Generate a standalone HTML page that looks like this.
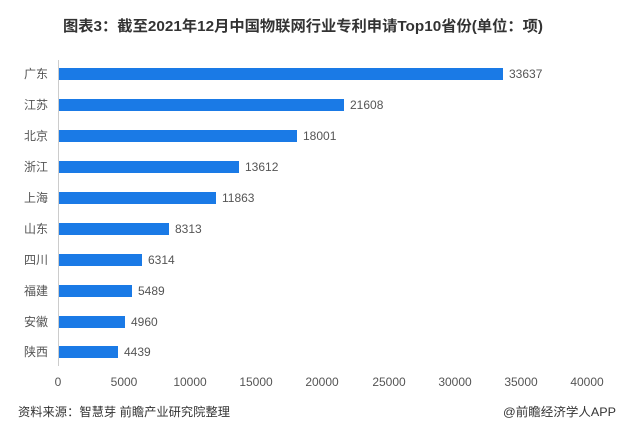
<!DOCTYPE html>
<html><head><meta charset="utf-8"><style>
body{margin:0;background:#fff;}
svg text{font-family:"Liberation Sans","Noto Sans CJK SC",sans-serif;}
</style></head><body>
<svg width="621" height="422" xmlns="http://www.w3.org/2000/svg">
<rect width="621" height="422" fill="#fff"/>
<text x="303" y="31" text-anchor="middle" font-size="15" font-weight="bold" fill="#333" textLength="480" lengthAdjust="spacingAndGlyphs">图表3：截至2021年12月中国物联网行业专利申请Top10省份(单位：项)</text>
<line x1="58.5" y1="60" x2="58.5" y2="366" stroke="#ccc" stroke-width="1"/>
<g fill="#1a7ae6">
<rect x="59" y="68" width="444" height="12"/>
<rect x="59" y="99" width="285" height="12"/>
<rect x="59" y="130" width="238" height="12"/>
<rect x="59" y="161" width="180" height="12"/>
<rect x="59" y="192" width="157" height="12"/>
<rect x="59" y="223" width="110" height="12"/>
<rect x="59" y="254" width="83" height="12"/>
<rect x="59" y="285" width="73" height="12"/>
<rect x="59" y="316" width="66" height="12"/>
<rect x="59" y="346" width="59" height="12"/>
</g>
<g font-size="12" fill="#555" text-anchor="end">
<text x="48" y="78">广东</text><text x="48" y="109">江苏</text><text x="48" y="140">北京</text>
<text x="48" y="171">浙江</text><text x="48" y="202">上海</text><text x="48" y="233">山东</text>
<text x="48" y="264">四川</text><text x="48" y="295">福建</text><text x="48" y="326">安徽</text>
<text x="48" y="356">陕西</text>
</g>
<g font-size="12" fill="#555">
<text x="509" y="78">33637</text><text x="350" y="109">21608</text><text x="303" y="140">18001</text>
<text x="245" y="171">13612</text><text x="222" y="202">11863</text><text x="175" y="233">8313</text>
<text x="148" y="264">6314</text><text x="138" y="295">5489</text><text x="131" y="326">4960</text>
<text x="124" y="356">4439</text>
</g>
<g font-size="12" fill="#555" text-anchor="middle">
<text x="58" y="386">0</text><text x="124" y="386">5000</text><text x="190" y="386">10000</text>
<text x="256" y="386">15000</text><text x="322" y="386">20000</text><text x="389" y="386">25000</text>
<text x="455" y="386">30000</text><text x="521" y="386">35000</text><text x="587" y="386">40000</text>
</g>
<text x="18" y="416" font-size="12" fill="#333" textLength="212" lengthAdjust="spacingAndGlyphs">资料来源：智慧芽 前瞻产业研究院整理</text>
<text x="503" y="416" font-size="12" fill="#333" textLength="113" lengthAdjust="spacingAndGlyphs">@前瞻经济学人APP</text>
</svg>
</body></html>
